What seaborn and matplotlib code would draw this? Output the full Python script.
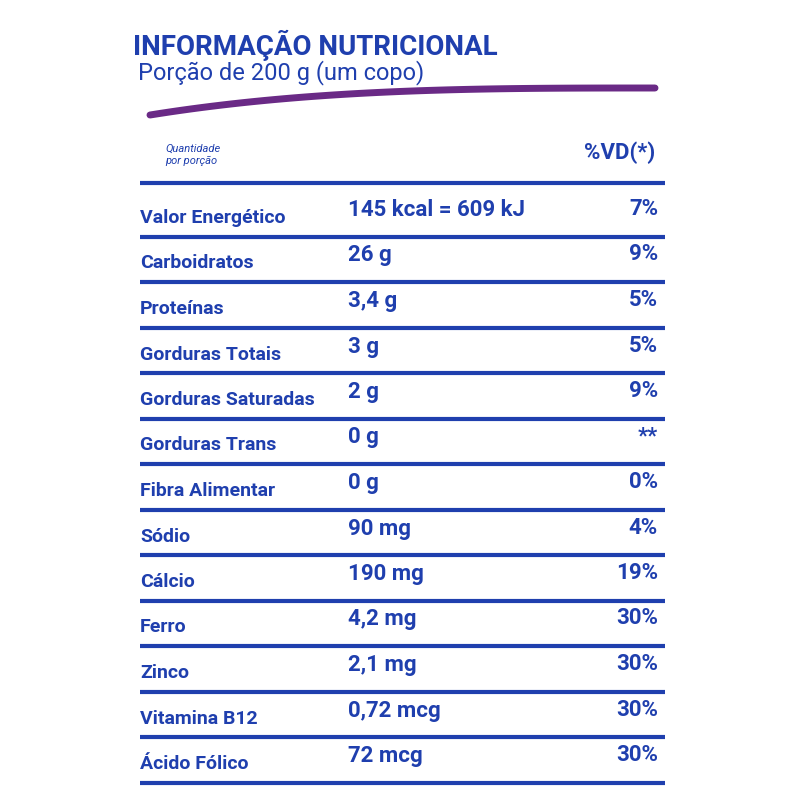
import matplotlib
matplotlib.use("Agg")
import matplotlib.pyplot as plt
import seaborn as sns
import numpy as np

sns.set_theme(style="white")
plt.rcParams['font.family'] = ['Roboto', 'DejaVu Sans']

title = "INFORMAÇÃO NUTRICIONAL"
subtitle = "Porção de 200 g (um copo)"
nutrients = ["Valor Energético", "Carboidratos", "Proteínas", "Gorduras Totais",
             "Gorduras Saturadas", "Gorduras Trans", "Fibra Alimentar", "Sódio",
             "Cálcio", "Ferro", "Zinco", "Vitamina B12", "Ácido Fólico"]
amounts = ["145 kcal = 609 kJ", "26 g", "3,4 g", "3 g", "2 g", "0 g", "0 g",
           "90 mg", "190 mg", "4,2 mg", "2,1 mg", "0,72 mcg", "72 mcg"]
vd = ["7%", "9%", "5%", "5%", "9%", "**", "0%", "4%", "19%", "30%", "30%", "30%", "30%"]

blue = "#1f3fae"
purple = "#6a2a86"

fig = plt.figure(figsize=(8, 8), dpi=100)
ax = fig.add_axes([0, 0, 1, 1])
ax.set_xlim(0, 800)
ax.set_ylim(800, 0)
ax.axis("off")

ax.text(133, 45, title, color=blue, fontsize=20, fontweight="bold", va="center")
ax.text(138, 73, subtitle, color=blue, fontsize=17, va="center")
t = np.linspace(0, 1, 50)
ax.plot(150 + 505 * t, 88 + 27 * (1 - t) ** 3, color=purple, lw=5, solid_capstyle="round")
ax.text(165, 155, "Quantidade\npor porção", color=blue, fontsize=8, va="center", style="italic")
ax.text(655, 153, "%VD(*)", color=blue, fontsize=16, fontweight="bold", va="center", ha="right")

y0, dy = 214, 45.5
ys = y0 + dy * np.arange(len(nutrients))
for y, n, a, v in zip(ys, nutrients, amounts, vd):
    ax.text(140, y + 4, n, color=blue, fontsize=14, va="center", fontweight="bold")
    ax.text(348, y - 4, a, color=blue, fontsize=16, va="center", fontweight="bold")
    ax.text(658, y - 5, v, color=blue, fontsize=16, va="center", ha="right", fontweight="bold")
seps = np.concatenate([[183], ys + dy / 2])
ax.hlines(seps, 140, 665, color=blue, lw=3)

fig.savefig("out.png", dpi=100, facecolor="white")
